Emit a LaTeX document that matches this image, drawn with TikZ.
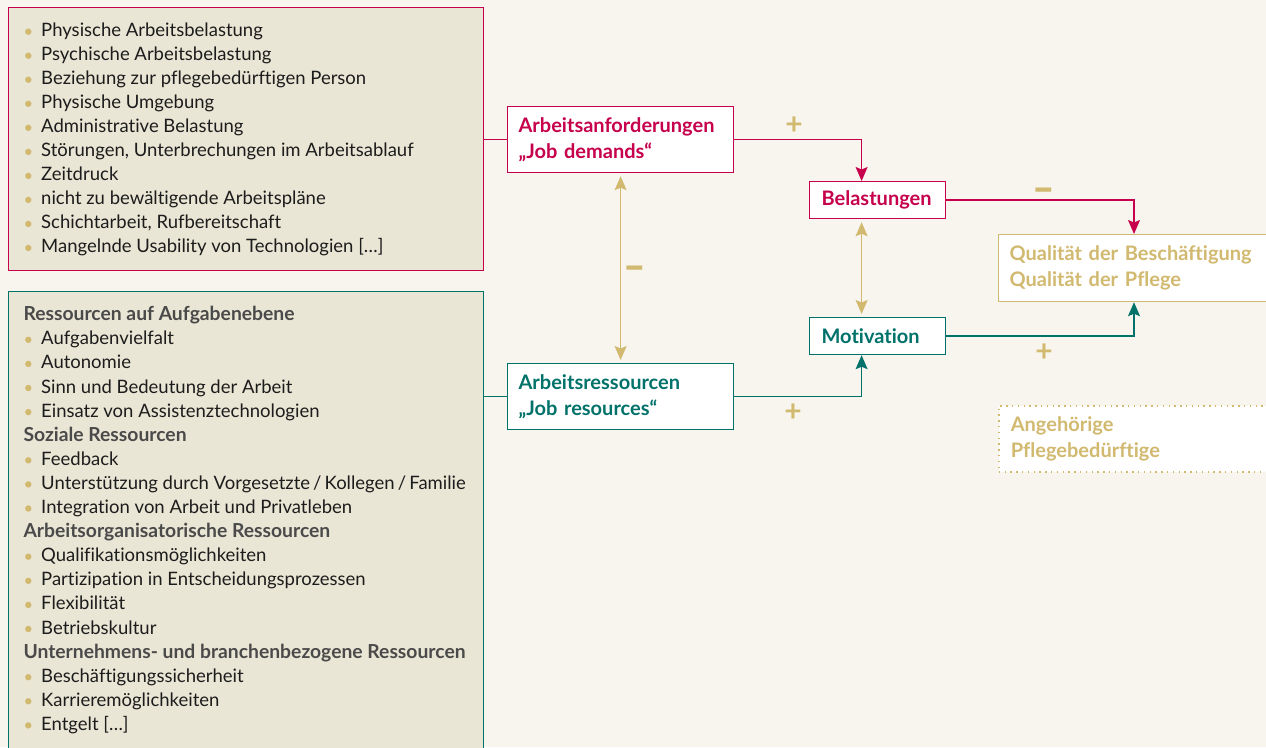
\documentclass[tikz,border=0pt]{standalone}
\usepackage{fontspec}
\setmainfont{Lato}[Ligatures=NoCommon]
\usetikzlibrary{arrows.meta,calc}
\definecolor{bg}{HTML}{F8F5EE}
\definecolor{beige}{HTML}{EAE6D5}
\definecolor{crim}{HTML}{C6004C}
\definecolor{tealc}{HTML}{00726A}
\definecolor{gold}{HTML}{D1B970}
\definecolor{headc}{HTML}{4A4A4A}
\definecolor{txt}{HTML}{1C1C1C}
\tikzset{
  >={Stealth[length=14pt,width=12pt,inset=2.5pt]},
  listbox/.style={draw, fill=beige, line width=1.2pt, anchor=north west, inner sep=0pt},
  box/.style={draw, fill=white, line width=1.2pt, anchor=north west, inner ysep=0pt, align=left,
    font=\fontsize{20}{26}\selectfont\bfseries},
  item/.style={anchor=base west, inner sep=0pt, text=txt, font=\fontsize{18.5}{22}\selectfont},
  headitem/.style={item, text=headc, font=\fontsize{19.3}{22}\selectfont\bfseries},
  conn/.style={line width=1.3pt},
  sign/.style={text=gold, font=\fontsize{30}{30}\selectfont\bfseries, inner sep=0pt, anchor=center},
}
\begin{document}
\begin{tikzpicture}[x=1pt,y=-1pt]
\useasboundingbox (0,0) rectangle (1266,747);
\fill[bg] (0,0) rectangle (1266,747);
\clip (0,0) rectangle (1266,747);

% list boxes
\node[listbox, draw=crim, minimum width=475pt, minimum height=263pt] (dlist) at (8,7) {};
\node[listbox, draw=tealc, minimum width=475pt, minimum height=480pt] (rlist) at (8,291) {};

\foreach \t [count=\i] in {Physische Arbeitsbelastung, Psychische Arbeitsbelastung,
  Beziehung zur pflegebedürftigen Person, Physische Umgebung, Administrative Belastung,
  {Störungen, Unterbrechungen im Arbeitsablauf}, Zeitdruck, nicht zu bewältigende Arbeitspläne,
  {Schichtarbeit, Rufbereitschaft}, Mangelnde Usability von Technologien […]} {
  \fill[gold] (28.3,{31.7+24.03*(\i-1)}) circle (3.2);
  \node[item] (d\i) at (41,{36.7+24.03*(\i-1)}) {\t};
}

\foreach \k/\t in {0/{Ressourcen auf Aufgabenebene}, 5/{Soziale Ressourcen},
  9/{Arbeitsorganisatorische Ressourcen}, 14/{Unternehmens- und branchenbezogene Ressourcen}} {
  \node[headitem] (h\k) at (23.3,{320.7+24.1*\k}) {\t};
}
\foreach \k/\t in {1/{Aufgabenvielfalt}, 2/{Autonomie}, 3/{Sinn und Bedeutung der Arbeit},
  4/{Einsatz von Assistenztechnologien}, 6/{Feedback},
  7/{Unterstützung durch Vorgesetzte\,/\,Kollegen\,/\,Familie},
  8/{Integration von Arbeit und Privatleben}, 10/{Qualifikationsmöglichkeiten},
  11/{Partizipation in Entscheidungsprozessen}, 12/{Flexibilität}, 13/{Betriebskultur},
  15/{Beschäftigungssicherheit}, 16/{Karrieremöglichkeiten}, 17/{Entgelt […]}} {
  \fill[gold] (28.3,{315.7+24.1*\k}) circle (3.2);
  \node[item] (g\k) at (41,{320.7+24.1*\k}) {\t};
}

% model boxes
\node[box, draw=crim, text=crim, minimum height=66pt, text width=204pt, inner xsep=11pt]
  (demands) at (507,106) {Arbeitsanforderungen\\„Job demands“};
\node[box, draw=tealc, text=tealc, minimum height=66pt, text width=204pt, inner xsep=11pt]
  (res) at (507,363) {Arbeitsressourcen\\„Job resources“};
\node[box, draw=crim, text=crim, minimum height=37pt, text width=112pt, inner xsep=12pt]
  (belast) at (809,181) {Belastungen};
\node[box, draw=tealc, text=tealc, minimum height=37pt, text width=112pt, inner xsep=12pt]
  (motiv) at (809,317) {Motivation};
\node[box, draw=gold, text=gold, minimum height=67pt, text width=278pt, inner xsep=11pt]
  (qual) at (998,234) {Qualität der Beschäftigung\\Qualität der Pflege};
\node[box, draw=gold, text=gold, minimum height=66pt, text width=278pt, inner xsep=12pt,
  line width=1.6pt, dash pattern=on 1.4pt off 4.4pt]
  (angeh) at (998,405) {Angehörige\\Pflegebedürftige};

% connectors
\draw[conn, crim] (dlist.east |- demands.west) -- (demands.west);
\draw[conn, crim, ->] (demands.east) -| ([xshift=-16pt]belast.north);
\draw[conn, crim, ->] (belast.east) -| ([xshift=136pt]qual.north west);
\draw[conn, tealc] (rlist.east |- res.west) -- (res.west);
\draw[conn, tealc, ->] (res.east) -| ([xshift=-16pt]motiv.south);
\draw[conn, tealc, ->] (motiv.east) -| ([xshift=136pt]qual.south west);
\draw[conn, gold, <->, shorten <=3pt, shorten >=3pt] (demands.south) -- (res.north);
\draw[conn, gold, <->, shorten <=3pt, shorten >=3pt] ([xshift=-16pt]belast.south) -- ([xshift=-16pt]motiv.north);

% signs
\node[sign] (s1) at (794,126) {+};
\node[sign] (s2) at (1044,196) {\scalebox{1.3}[1.6]{–}};
\node[sign] (s3) at (1044,353) {+};
\node[sign] (s4) at (793,413) {+};
\node[sign] (s5) at (635,274) {\scalebox{1.3}[1.6]{–}};
\end{tikzpicture}
\end{document}
